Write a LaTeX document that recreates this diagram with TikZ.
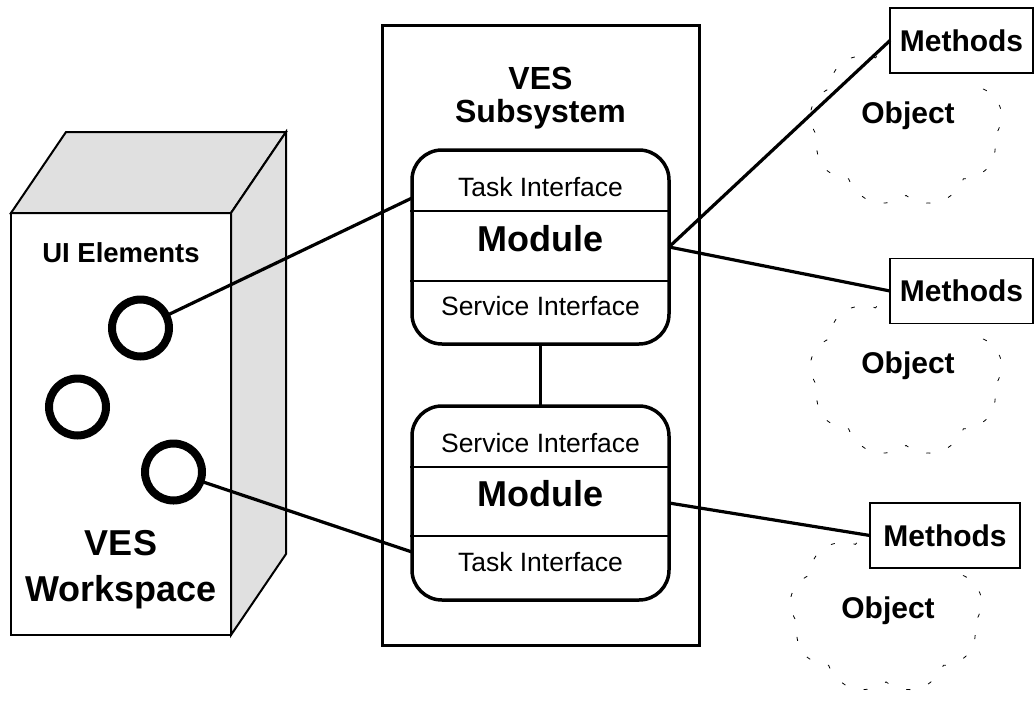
\documentclass[tikz,border=0pt]{standalone}
\usepackage{fontspec}
\setmainfont{Liberation Sans}
\usetikzlibrary{positioning, shapes, shapes.symbols, calc}

\definecolor{sidegray}{gray}{0.88}

\begin{document}
\begin{tikzpicture}[x=1pt, y=-1pt,
    every node/.style={inner sep=0pt, outer sep=0pt},
    ws/.style={line width=2pt, line join=miter},
    conn/.style={line width=3.2pt},
    uielem/.style={circle, draw, line width=8pt, minimum size=57pt},
    modbox/.style={draw, fill=white, rounded corners=30pt, line width=3.5pt,
        minimum width=257pt, minimum height=194pt},
    divider/.style={line width=1.5pt},
    iface/.style={font=\fontsize{26.5}{30}\selectfont, anchor=base},
    modname/.style={font=\bfseries\fontsize{36}{40}\selectfont, anchor=base},
    methbox/.style={draw, fill=white, line width=1.8pt, minimum width=143pt,
        minimum height=65pt, font=\bfseries\fontsize{30}{34}\selectfont},
    objcloud/.style={cloud, cloud puffs=9, cloud puff arc=110, cloud ignores aspect, draw,
        line width=0.8pt, dash pattern=on 4pt off 19pt,
        minimum width=193pt, minimum height=165pt},
    objtext/.style={font=\bfseries\fontsize{30}{34}\selectfont, anchor=north}]

    \useasboundingbox (0,0) rectangle (1034,702);

    % Workspace block: front face, then top and side
    \node[draw, ws, fill=white, minimum width=220pt, minimum height=422pt] (wsfront) at (121,424) {};
    \draw[ws, fill=sidegray] (wsfront.north west) -- ++(55,-81) -- ++(220,0) -- (wsfront.north east) -- cycle;
    \draw[ws, fill=sidegray] (wsfront.north east) -- ++(55,-81) -- ++(0,422) -- (wsfront.south east) -- cycle;

    \node[font=\bfseries\fontsize{27.5}{30}\selectfont, anchor=north] (uilabel) at (121,243) {UI Elements};
    \node[font=\bfseries\fontsize{36}{46}\selectfont, align=center, anchor=north] (wslabel) at (121,530) {VES\\Workspace};

    % UI elements
    \node[uielem] (ui1) at (140.5,328) {};
    \node[uielem] (ui2) at (77.5,407) {};
    \node[uielem] (ui3) at (173.5,472) {};

    % Subsystem frame
    \node[draw, line width=3pt, minimum width=317pt, minimum height=620pt] (subsys) at (540.5,335) {};
    \node[font=\bfseries\fontsize{32}{33}\selectfont, align=center, anchor=north] (subsyslabel) at (540.5,67) {VES\\Subsystem};

    % Modules
    \node[modbox] (mod1) at (540.5,247) {};
    \node[modbox] (mod2) at (540.5,503) {};

    \draw[divider] ([xshift=-2pt, yshift=-61pt]mod1.north west) -- ([xshift=2pt, yshift=-61pt]mod1.north east);
    \draw[divider] ([xshift=-2pt, yshift=-131pt]mod1.north west) -- ([xshift=2pt, yshift=-131pt]mod1.north east);
    \draw[divider] ([xshift=-2pt, yshift=-61pt]mod2.north west) -- ([xshift=2pt, yshift=-61pt]mod2.north east);
    \draw[divider] ([xshift=-2pt, yshift=-130pt]mod2.north west) -- ([xshift=2pt, yshift=-130pt]mod2.north east);

    \node[iface] (m1task) at ([yshift=-46.7pt]mod1.north) {Task Interface};
    \node[modname] (m1name) at ([yshift=-101.7pt]mod1.north) {Module};
    \node[iface] (m1serv) at ([yshift=-165pt]mod1.north) {Service Interface};

    \node[iface] (m2serv) at ([yshift=-46.7pt]mod2.north) {Service Interface};
    \node[modname] (m2name) at ([yshift=-100.7pt]mod2.north) {Module};
    \node[iface] (m2task) at ([yshift=-165.7pt]mod2.north) {Task Interface};

    % Objects
    \node[objcloud] (cloud1) at (906,124.5) {};
    \node[objcloud] (cloud2) at (906,374.5) {};
    \node[objcloud] (cloud3) at (886,611) {};

    \node[objtext] (obj1) at (908,101.7) {Object};
    \node[objtext] (obj2) at (908,351.7) {Object};
    \node[objtext] (obj3) at (888,596.7) {Object};

    \node[methbox] (meth1) at (961.5,40.5) {Methods};
    \node[methbox] (meth2) at (961.5,291) {Methods};
    \node[methbox, minimum width=150pt] (meth3) at (945,535.5) {Methods};

    % Connections
    \draw[conn] (ui1) -- ([yshift=49pt]mod1.west);
    \draw[conn] (ui3) -- ([yshift=-49pt]mod2.west);
    \draw[conn] (mod1.south) -- (mod2.north);
    \draw[conn] (mod1.east) -- (meth1.west);
    \draw[conn] (mod1.east) -- (meth2.west);
    \draw[conn] (mod2.east) -- (meth3.west);

\end{tikzpicture}
\end{document}
